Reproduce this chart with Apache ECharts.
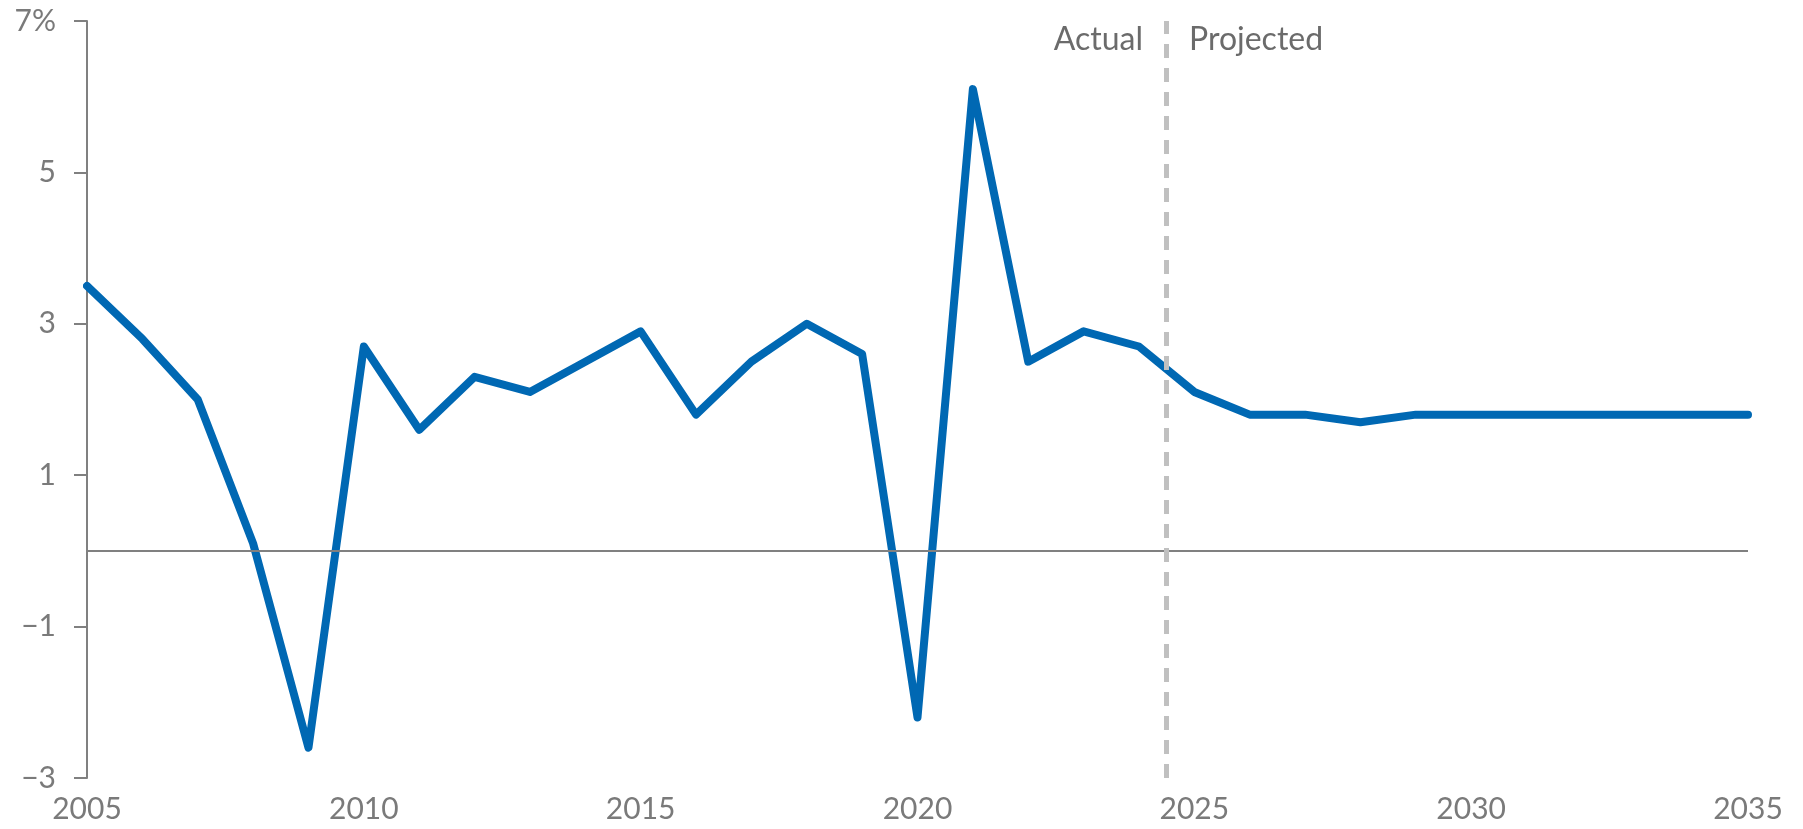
<!DOCTYPE html>
<html><head><meta charset="utf-8">
<script src="https://cdn.jsdelivr.net/npm/echarts@6/dist/echarts.min.js"></script>
<style>html,body{margin:0;padding:0;background:#fff}#c{width:1803px;height:829px}</style>
</head><body><div id="c"></div>
<script>
const years = [2005,2006,2007,2008,2009,2010,2011,2012,2013,2014,2015,2016,2017,2018,2019,2020,2021,2022,2023,2024,2025,2026,2027,2028,2029,2030,2031,2032,2033,2034,2035];
const growth = [3.5,2.8,2.0,0.1,-2.6,2.7,1.6,2.3,2.1,2.5,2.9,1.8,2.5,3.0,2.6,-2.2,6.1,2.5,2.9,2.7,2.1,1.8,1.8,1.7,1.8,1.8,1.8,1.8,1.8,1.8,1.8];
const yTicks = [-3,-1,1,3,5,7];
const xTicks = [2005,2010,2015,2020,2025,2030,2035];
const divider = 2024.5;
const labels = ['Actual','Projected'];

const font = 'Lato, "Noto Sans", sans-serif';
const chart = echarts.init(document.getElementById('c'), null, {renderer:'canvas'});
chart.setOption({
  animation:false,
  grid:{left:87,right:55,top:21,bottom:51,containLabel:false},
  xAxis:{type:'value',min:xTicks[0],max:xTicks[xTicks.length-1],interval:5,
    axisLine:{show:false},axisTick:{show:false},splitLine:{show:false},
    axisLabel:{color:'#7a7a7a',fontSize:30,fontFamily:font,margin:16,formatter:v=>String(v)}},
  yAxis:{type:'value',min:yTicks[0],max:yTicks[yTicks.length-1],
    axisLine:{show:true,lineStyle:{color:'#808080',width:2}},
    axisTick:{show:true,length:13,lineStyle:{color:'#808080',width:2},customValues:yTicks},
    splitLine:{show:false},
    axisLabel:{color:'#7a7a7a',fontSize:30,fontFamily:font,margin:31,customValues:yTicks,
      formatter:v=>(v===7?'7%':(v<0?'\u2212'+Math.abs(v):String(v)))}},
  graphic:[
    {type:'text',right:1803-1143,top:24,style:{text:labels[0],fill:'#6b6b6b',fontSize:32,fontFamily:font}},
    {type:'text',left:1189,top:24,style:{text:labels[1],fill:'#6b6b6b',fontSize:32,fontFamily:font}}
  ],
  series:[{
    type:'line',data:years.map((y,i)=>[y,growth[i]]),showSymbol:false,symbol:'none',
    lineStyle:{color:'#0068b3',width:8,join:'round',cap:'round'},
    z:3,
    markLine:{silent:true,symbol:'none',label:{show:false},animation:false,
      data:[
        {yAxis:0,lineStyle:{color:'#808080',width:2,type:'solid'}},
        {xAxis:divider,lineStyle:{color:'#c0c0c0',width:5,type:[14,10]}}
      ]}
  }]
});
</script></body></html>
